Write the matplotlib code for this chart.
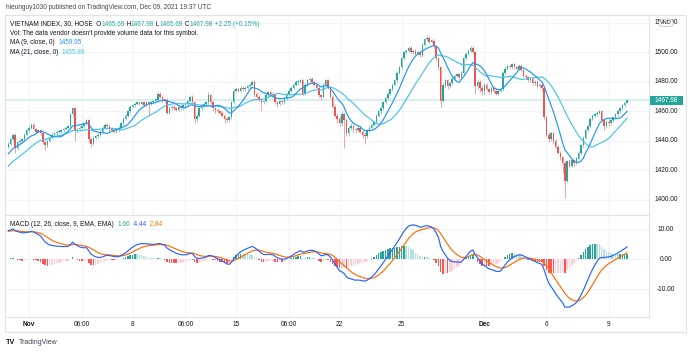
import matplotlib
matplotlib.use("Agg")
import matplotlib.pyplot as plt
import numpy as np
import pandas as pd
from matplotlib.patches import Rectangle, FancyBboxPatch

plt.rcParams['font.family'] = ['Liberation Sans', 'DejaVu Sans']

W, H = 690, 352
BARS_PER_DAY = 9

# ---- data (30-min bars, 9 per trading day, Oct 29 .. Dec 9) ----
warmup_closes = [
    1372, 1374, 1373, 1376, 1378, 1377, 1380, 1382, 1381, 1384,
    1386, 1388, 1387, 1390, 1392, 1394, 1393, 1396, 1398, 1400,
    1402, 1401, 1404, 1406, 1408, 1407, 1410, 1412, 1414, 1413,
    1416, 1418, 1420, 1419, 1422, 1424, 1423, 1426, 1428, 1427,
    1430, 1431, 1433, 1432, 1436,
]

closes = [
    1438, 1441, 1444, 1435, 1439, 1440, 1441, 1444, 1447,  # Oct 29
    1449, 1451, 1448, 1446, 1447, 1445, 1439, 1437, 1440,  # Nov 1
    1442, 1444, 1445, 1446, 1446, 1447, 1448, 1449, 1450,  # Nov 2
    1458, 1462, 1447, 1448, 1449, 1450, 1452, 1454, 1441,  # Nov 3
    1438, 1442, 1443, 1444, 1446, 1449, 1451, 1450, 1448,  # Nov 4
    1447, 1446, 1447, 1449, 1452, 1455, 1457, 1460, 1463,  # Nov 5
    1464, 1465, 1466, 1465, 1466, 1464, 1466, 1465, 1466,  # Nov 8
    1467, 1468, 1472, 1470, 1467, 1468, 1459, 1462, 1463,  # Nov 9
    1462, 1461, 1463, 1462, 1464, 1465, 1467, 1470, 1466,  # Nov 10
    1455, 1457, 1462, 1464, 1465, 1466, 1471, 1466, 1462,  # Nov 11
    1461, 1460, 1459, 1457, 1455, 1454, 1456, 1466, 1474,  # Nov 12
    1475, 1474, 1476, 1475, 1476, 1477, 1478, 1480, 1472,  # Nov 15
    1470, 1468, 1466, 1467, 1471, 1473, 1472, 1471, 1466,  # Nov 16
    1465, 1467, 1466, 1469, 1472, 1474, 1476, 1478, 1480,  # Nov 17
    1480, 1481, 1472, 1478, 1481, 1482, 1480, 1478, 1476,  # Nov 18
    1471, 1470, 1478, 1481, 1476, 1470, 1463, 1457, 1455,  # Nov 19
    1452, 1458, 1454, 1445, 1449, 1450, 1448, 1447, 1449,  # Nov 22
    1446, 1444, 1443, 1447, 1449, 1451, 1453, 1457, 1460,  # Nov 23
    1462, 1466, 1469, 1472, 1475, 1478, 1481, 1486, 1490,  # Nov 24
    1496, 1500, 1501, 1503, 1500, 1501, 1499, 1500, 1498,  # Nov 25
    1505, 1509, 1510, 1507, 1508, 1504, 1496, 1490, 1467,  # Nov 26
    1478, 1481, 1477, 1479, 1482, 1484, 1485, 1483, 1486,  # Nov 29
    1496, 1499, 1501, 1503, 1500, 1477, 1480, 1476, 1474,  # Nov 30
    1478, 1475, 1473, 1476, 1474, 1472, 1474, 1475, 1486,  # Dec 1
    1489, 1491, 1490, 1492, 1490, 1489, 1491, 1488, 1484,  # Dec 2
    1483, 1481, 1482, 1479, 1480, 1477, 1478, 1476, 1456,  # Dec 3
    1444, 1441, 1445, 1440, 1436, 1432, 1429, 1425, 1413,  # Dec 6
    1426, 1423, 1427, 1425, 1428, 1432, 1437, 1442, 1447,  # Dec 7
    1450, 1455, 1457, 1458, 1459, 1460, 1454, 1450, 1453,  # Dec 8
    1452, 1454, 1456, 1458, 1460, 1462, 1464, 1465.69, 1467.98,  # Dec 9
]

highs = [
    1439, 1442, 1445, 1445, 1440, 1441, 1442, 1445, 1448,
    1450, 1452, 1452, 1449, 1448, 1448, 1446, 1441, 1441,
    1443, 1445, 1446, 1447, 1447, 1448, 1449, 1450, 1451,
    1459, 1463, 1463, 1449, 1450, 1451, 1453, 1455, 1455,
    1442, 1443, 1444, 1445, 1447, 1450, 1452, 1452, 1451,
    1449, 1448, 1448, 1450, 1453, 1456, 1458, 1461, 1464,
    1465, 1466, 1467, 1467, 1467, 1467, 1467, 1467, 1467,
    1468, 1469, 1473, 1473, 1471, 1469, 1469, 1463, 1464,
    1464, 1463, 1464, 1464, 1465, 1466, 1468, 1471, 1471,
    1467, 1458, 1463, 1465, 1466, 1467, 1473, 1472, 1467,
    1463, 1462, 1461, 1460, 1458, 1456, 1457, 1467, 1475,
    1476, 1476, 1477, 1477, 1477, 1478, 1479, 1481, 1481,
    1473, 1471, 1469, 1468, 1472, 1474, 1474, 1473, 1472,
    1467, 1468, 1468, 1470, 1473, 1475, 1477, 1479, 1481,
    1481, 1482, 1482, 1479, 1482, 1483, 1483, 1481, 1479,
    1477, 1472, 1479, 1482, 1482, 1477, 1471, 1464, 1459,
    1457, 1460, 1459, 1455, 1450, 1452, 1451, 1449, 1450,
    1450, 1447, 1446, 1448, 1450, 1452, 1454, 1458, 1461,
    1463, 1467, 1470, 1473, 1476, 1479, 1482, 1487, 1491,
    1497, 1501, 1502, 1504, 1504, 1502, 1502, 1501, 1501,
    1506, 1510, 1512, 1511, 1509, 1509, 1505, 1497, 1491,
    1479, 1482, 1482, 1480, 1483, 1485, 1486, 1486, 1487,
    1497, 1500, 1502, 1504, 1504, 1501, 1482, 1481, 1478,
    1479, 1479, 1476, 1477, 1477, 1475, 1475, 1476, 1487,
    1490, 1492, 1492, 1493, 1493, 1491, 1492, 1492, 1489,
    1485, 1484, 1483, 1483, 1481, 1481, 1479, 1479, 1477,
    1457, 1446, 1446, 1446, 1441, 1437, 1433, 1430, 1426,
    1427, 1428, 1428, 1428, 1429, 1433, 1438, 1443, 1448,
    1451, 1456, 1458, 1459, 1460, 1461, 1461, 1455, 1454,
    1455, 1455, 1457, 1459, 1461, 1463, 1465, 1466.5, 1467.98,
]

lows = [
    1435, 1437, 1440, 1432, 1434, 1438, 1439, 1440, 1443,
    1446, 1448, 1447, 1445, 1445, 1444, 1438, 1434, 1436,
    1439, 1441, 1443, 1444, 1445, 1445, 1446, 1447, 1448,
    1449, 1457, 1440, 1445, 1447, 1448, 1449, 1451, 1439,
    1436, 1437, 1441, 1442, 1443, 1445, 1448, 1449, 1446,
    1446, 1445, 1445, 1446, 1448, 1451, 1454, 1456, 1459,
    1462, 1463, 1464, 1464, 1464, 1463, 1463, 1457, 1464,
    1465, 1466, 1467, 1469, 1466, 1466, 1458, 1458, 1461,
    1461, 1460, 1460, 1461, 1461, 1463, 1464, 1466, 1465,
    1452, 1453, 1456, 1461, 1463, 1464, 1465, 1465, 1460,
    1459, 1459, 1458, 1456, 1452, 1453, 1453, 1455, 1465,
    1473, 1473, 1473, 1474, 1474, 1475, 1476, 1477, 1470,
    1469, 1467, 1460, 1465, 1466, 1470, 1471, 1470, 1465,
    1463, 1464, 1465, 1465, 1468, 1471, 1473, 1475, 1477,
    1478, 1479, 1471, 1471, 1477, 1480, 1479, 1477, 1475,
    1470, 1468, 1469, 1477, 1475, 1469, 1462, 1456, 1452,
    1450, 1450, 1435, 1443, 1443, 1447, 1446, 1445, 1446,
    1445, 1442, 1438, 1442, 1446, 1448, 1450, 1452, 1456,
    1458, 1461, 1465, 1468, 1471, 1474, 1477, 1480, 1485,
    1489, 1495, 1499, 1500, 1499, 1499, 1498, 1498, 1497,
    1497, 1504, 1508, 1506, 1506, 1503, 1495, 1488, 1462,
    1466, 1476, 1475, 1476, 1478, 1481, 1483, 1482, 1482,
    1485, 1495, 1498, 1500, 1499, 1472, 1475, 1473, 1471,
    1472, 1474, 1472, 1472, 1473, 1471, 1471, 1473, 1474,
    1485, 1488, 1489, 1489, 1489, 1488, 1488, 1487, 1483,
    1482, 1480, 1480, 1478, 1478, 1476, 1476, 1474, 1454,
    1443, 1439, 1440, 1438, 1435, 1431, 1427, 1418, 1401,
    1412, 1422, 1422, 1423, 1424, 1427, 1431, 1436, 1441,
    1446, 1449, 1454, 1456, 1457, 1458, 1453, 1447, 1449,
    1450, 1451, 1453, 1455, 1457, 1459, 1461, 1463, 1465.69,
]

price_ticks = [1400, 1420, 1440, 1460, 1480, 1500, 1520]
macd_ticks = [10, 0, -10]
# (label, trading-day index from Oct 29, bar within day)
time_ticks = [("Nov", 1, 0), ("06:00", 3, 5), ("8", 6, 0), ("06:00", 8, 5),
              ("15", 11, 0), ("06:00", 13, 5), ("22", 16, 0), ("25", 19, 0),
              ("Dec", 23, 0), ("6", 26, 0), ("9", 29, 0)]
bold_labels = {"Nov", "Dec"}
last_price = 1467.98

# ---- indicators ----
all_close = pd.Series(warmup_closes + closes, dtype=float)
n_warm = len(warmup_closes)
ma9 = all_close.rolling(9).mean().values[n_warm:]
ma21 = all_close.rolling(21).mean().values[n_warm:]
ema12 = all_close.ewm(span=12, adjust=False).mean()
ema26 = all_close.ewm(span=26, adjust=False).mean()
macd_full = ema12 - ema26
signal_full = macd_full.ewm(span=9, adjust=False).mean()
hist_full = (macd_full - signal_full).values
macd = macd_full.values[n_warm:]
signal = signal_full.values[n_warm:]
hist = hist_full[n_warm:]
hist_prev = hist_full[n_warm - 1:-1]

c = np.array(closes, dtype=float)
o = np.array([warmup_closes[-1]] + closes[:-1], dtype=float)
hi = np.array(highs, dtype=float)
lo = np.array(lows, dtype=float)
x = np.arange(len(c))

# ---- colours ----
UP, DOWN = '#26a69a', '#ef5350'
GRID = '#f0f3fa'
BORDER = '#e0e3eb'
TXT = '#131722'

fig = plt.figure(figsize=(W / 100, H / 100), dpi=100)
fig.patch.set_facecolor('white')

def fx(px):
    return px / W

def fy(py):
    return 1 - py / H

# pixel geometry of the panes
left_px, right_px = 5, 649
main_top, main_bot = 15, 215
macd_top, macd_bot = 215, 317
bar0_px, bar_step = 8.3, 2.3

ax = fig.add_axes([fx(left_px), fy(main_bot), (right_px - left_px) / W, (main_bot - main_top) / H])
ax2 = fig.add_axes([fx(left_px), fy(macd_bot), (right_px - left_px) / W, (macd_bot - macd_top) / H])

xl = ((left_px - bar0_px) / bar_step, (right_px - bar0_px) / bar_step)
for a in (ax, ax2):
    a.set_xlim(*xl)
    a.set_xticks([])
    a.set_yticks([])
    for s in a.spines.values():
        s.set_color(BORDER)
        s.set_linewidth(0.8)

# price scale: 1500 at y=52.3 px, 1.475 px per point
p_top = 1500 + (52.3 - main_top) / 1.475
p_bot = 1500 - (main_bot - 52.3) / 1.475
ax.set_ylim(p_bot, p_top)
m_top = (259.3 - macd_top) / 3.0
m_bot = -(macd_bot - 259.3) / 3.0
ax2.set_ylim(m_bot, m_top)

tick_bars = [d * BARS_PER_DAY + b for _, d, b in time_ticks]
for tb in tick_bars:
    ax.axvline(tb, color=GRID, lw=0.8, zorder=0)
    ax2.axvline(tb, color=GRID, lw=0.8, zorder=0)
for p in price_ticks:
    ax.axhline(p, color=GRID, lw=0.8, zorder=0)
for m in macd_ticks:
    ax2.axhline(m, color=GRID, lw=0.8, zorder=0)

# last price line
ax.axhline(last_price, color='#d3efec', lw=1.3, zorder=1)

# candles
up = c >= o
cols = np.where(up, UP, DOWN)
ax.vlines(x, lo, hi, colors=cols, lw=0.5, alpha=0.75, zorder=2)
body_h = np.maximum(np.abs(c - o), 0.35)
ax.bar(x, body_h, bottom=np.minimum(o, c), width=0.62, color=cols, lw=0, zorder=3)

# moving averages
ax.plot(x, ma21, color='#4cc2ea', lw=0.85, zorder=4)
ax.plot(x, ma9, color='#2196f3', lw=0.85, zorder=5)

# MACD histogram
hcols = []
for h, hp in zip(hist, hist_prev):
    if h >= 0:
        hcols.append('#26a69a' if h >= hp else '#b2dfdb')
    else:
        hcols.append('#ff5252' if h < hp else '#ffcdd2')
ax2.bar(x, hist, width=0.68, color=hcols, lw=0, zorder=2)
ax2.plot(x, signal, color='#ff6d00', lw=0.85, zorder=3)
ax2.plot(x, macd, color='#2962ff', lw=0.85, zorder=4)

# outer frame
fig.patches.append(Rectangle((fx(5), fy(332)), (686 - 5) / W, (332 - 15) / H,
                             transform=fig.transFigure, fill=False,
                             edgecolor=BORDER, lw=0.8))

FS = 4.7
# price axis labels
for p in price_ticks:
    ypx = 52.3 - (p - 1500) * 1.475
    fig.text(fx(666), fy(ypx), f"{p:.2f}", fontsize=FS, color=TXT, ha='center', va='center')
# VND currency badge drawn over the top label, as in the reference
fig.patches.append(FancyBboxPatch((fx(659), fy(26.3)), 14 / W, 7.2 / H,
                                  boxstyle="round,pad=0,rounding_size=0.006",
                                  transform=fig.transFigure, facecolor='white',
                                  edgecolor='#b2b5be', lw=0.5, zorder=5))
fig.text(fx(666), fy(22.7), "VND", fontsize=4.0, color=TXT, ha='center', va='center', zorder=6)

# last price badge
fig.patches.append(Rectangle((fx(650), fy(104.5)), 33 / W, 9 / H,
                             transform=fig.transFigure, facecolor=UP, edgecolor='none', zorder=5))
fig.text(fx(666.5), fy(100.2), f"{last_price:.2f}", fontsize=FS, color='white',
         ha='center', va='center', zorder=6)

# MACD axis labels
for m in macd_ticks:
    ypx = 259.3 - m * 3.0
    fig.text(fx(666), fy(ypx), f"{m:.2f}", fontsize=FS, color=TXT, ha='center', va='center')

# time labels
for (lab, d, b), tb in zip(time_ticks, tick_bars):
    xpx = bar0_px + tb * bar_step
    fig.text(fx(xpx), fy(325), lab, fontsize=FS, color=TXT, ha='center', va='center',
             fontweight='bold' if lab in bold_labels else 'normal')

# rich text helper
fig.canvas.draw()
renderer = fig.canvas.get_renderer()

def rich(xpx, ypx, parts, size=FS):
    for txt, col in parts:
        t = fig.text(fx(xpx), fy(ypx), txt, color=col, fontsize=size, ha='left', va='center')
        bb = t.get_window_extent(renderer=renderer)
        xpx += bb.width

fig.text(fx(6), fy(7.5), "hieunguy1030 published on TradingView.com, Dec 09, 2021 19:37 UTC",
         fontsize=FS, color='#434651', ha='left', va='center')

rich(10, 24, [("VIETNAM INDEX, 30, HOSE  O", TXT), ("1465.69", UP), (" H", TXT), ("1467.98", UP),
              (" L", TXT), ("1465.69", UP), (" C", TXT), ("1467.98", UP), (" +2.25 (+0.15%)", UP)])
rich(10, 33.7, [("Vol: The data vendor doesn't provide volume data for this symbol.", TXT)])
rich(10, 43, [("MA (9, close, 0)  ", TXT), ("1459.95", '#2196f3')])
rich(10, 52.2, [("MA (21, close, 0)  ", TXT), ("1455.89", '#4cc2ea')])
rich(10, 224.3, [("MACD (12, 26, close, 9, EMA, EMA)  ", TXT), ("1.60", '#26a69a'),
                 ("  4.44", '#2962ff'), ("  2.84", '#ff6d00')])

# TradingView logo line
fig.text(fx(6), fy(342.5), "TV", fontsize=5.2, color=TXT, fontweight='bold', ha='left', va='center')
fig.text(fx(19), fy(342.5), "TradingView", fontsize=5.0, color='#434651', ha='left', va='center')

fig.savefig("out.png", dpi=100, facecolor='white')
